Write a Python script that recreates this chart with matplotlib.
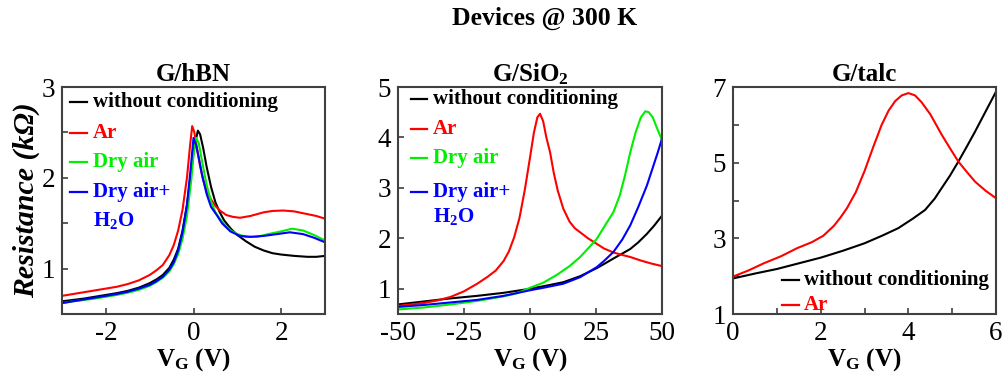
import matplotlib
matplotlib.use("Agg")
import matplotlib.pyplot as plt
from matplotlib.ticker import MultipleLocator

plt.rcParams["font.family"] = ["Liberation Serif", "DejaVu Serif"]
plt.rcParams["mathtext.fontset"] = "custom"
plt.rcParams["mathtext.rm"] = "Liberation Serif:bold"
plt.rcParams["mathtext.bf"] = "Liberation Serif:bold"
plt.rcParams["mathtext.it"] = "Liberation Serif:italic:bold"
plt.rcParams["axes.unicode_minus"] = False

# ---- G/hBN ----
hbn_black_vg = [-3, -2.75, -2.5, -2.25, -2, -1.75, -1.5, -1.25, -1, -0.85, -0.7, -0.55, -0.45,
                -0.35, -0.25, -0.15, -0.05, 0.02, 0.1, 0.15, 0.22, 0.3, 0.4, 0.5, 0.6, 0.7,
                0.85, 1.0, 1.2, 1.4, 1.6, 1.8, 2.0, 2.3, 2.6, 2.8, 3.0]
hbn_black = [0.64, 0.655, 0.67, 0.69, 0.71, 0.73, 0.755, 0.79, 0.84, 0.88, 0.93, 1.01, 1.10,
             1.22, 1.42, 1.70, 2.08, 2.35, 2.52, 2.48, 2.33, 2.12, 1.90, 1.73, 1.62, 1.53,
             1.44, 1.37, 1.30, 1.24, 1.20, 1.17, 1.155, 1.14, 1.13, 1.13, 1.14]
hbn_ar_vg = [-3, -2.75, -2.5, -2.25, -2, -1.75, -1.5, -1.25, -1, -0.85, -0.7, -0.55, -0.45,
             -0.35, -0.25, -0.15, -0.08, -0.03, 0.02, 0.08, 0.15, 0.22, 0.3, 0.4, 0.5, 0.6,
             0.75, 0.9, 1.06, 1.3, 1.6, 1.8, 2.05, 2.3, 2.6, 2.8, 3.0]
hbn_ar = [0.70, 0.72, 0.74, 0.76, 0.78, 0.80, 0.83, 0.87, 0.93, 0.98, 1.04, 1.15, 1.26, 1.42,
          1.65, 2.00, 2.35, 2.57, 2.50, 2.32, 2.13, 1.98, 1.86, 1.76, 1.69, 1.64, 1.59, 1.57,
          1.56, 1.58, 1.62, 1.635, 1.64, 1.63, 1.60, 1.58, 1.55]
hbn_dry_vg = [-3, -2.75, -2.5, -2.25, -2, -1.75, -1.5, -1.25, -1, -0.85, -0.7, -0.55, -0.45,
              -0.35, -0.25, -0.15, -0.05, 0.0, 0.06, 0.12, 0.2, 0.3, 0.4, 0.5, 0.6, 0.7, 0.85,
              1.0, 1.2, 1.45, 1.7, 2.0, 2.25, 2.5, 2.75, 3.0]
hbn_dry = [0.62, 0.64, 0.655, 0.67, 0.69, 0.71, 0.735, 0.765, 0.81, 0.85, 0.90, 0.97, 1.05,
           1.16, 1.33, 1.58, 1.98, 2.25, 2.44, 2.38, 2.17, 1.92, 1.74, 1.62, 1.55, 1.49, 1.42,
           1.38, 1.35, 1.35, 1.38, 1.41, 1.44, 1.42, 1.37, 1.31]
hbn_wet_vg = [-3, -2.75, -2.5, -2.25, -2, -1.75, -1.5, -1.25, -1, -0.85, -0.7, -0.55, -0.45,
              -0.35, -0.25, -0.15, -0.07, 0.0, 0.06, 0.12, 0.2, 0.3, 0.4, 0.53, 0.65, 0.84,
              1.06, 1.3, 1.6, 1.9, 2.2, 2.5, 2.75, 3.0]
hbn_wet = [0.62, 0.64, 0.66, 0.68, 0.70, 0.72, 0.745, 0.78, 0.82, 0.86, 0.91, 0.99, 1.07, 1.20,
           1.40, 1.70, 2.08, 2.44, 2.36, 2.22, 2.02, 1.82, 1.68, 1.59, 1.50, 1.41, 1.36, 1.35,
           1.36, 1.38, 1.40, 1.38, 1.34, 1.29]

# ---- G/SiO2 ----
sio2_black_vg = [-50, -40, -30, -20, -10, 0, 6, 12.6, 19, 25.3, 28, 31.6, 35, 38, 41, 44.3, 47, 50]
sio2_black = [0.69, 0.75, 0.81, 0.86, 0.92, 1.00, 1.06, 1.13, 1.25, 1.41, 1.49, 1.60, 1.70, 1.79,
              1.92, 2.09, 2.25, 2.45]
sio2_ar_vg = [-50, -45, -40, -35, -30, -25, -20, -16, -13, -10, -8, -6, -4, -2, 0, 1.5, 2.8, 3.8,
              5, 6.2, 7.6, 9, 10.5, 12.6, 15, 17, 19, 22, 25.3, 28, 31.6, 35, 38, 42, 46, 50]
sio2_ar = [0.66, 0.69, 0.72, 0.77, 0.84, 0.95, 1.10, 1.24, 1.36, 1.55, 1.74, 2.02, 2.40, 2.95,
           3.60, 4.10, 4.40, 4.47, 4.32, 4.00, 3.71, 3.30, 2.95, 2.59, 2.33, 2.20, 2.12, 2.00,
           1.89, 1.80, 1.72, 1.67, 1.63, 1.56, 1.50, 1.45]
sio2_dry_vg = [-50, -40, -30, -20, -10, -5, 0, 5, 10, 15, 19, 22, 25.3, 28, 31.6, 34, 36, 38, 40,
               42, 43.7, 45, 46.5, 48, 50]
sio2_dry = [0.59, 0.63, 0.69, 0.76, 0.85, 0.91, 1.02, 1.12, 1.27, 1.45, 1.63, 1.80, 1.99, 2.22,
            2.52, 2.85, 3.25, 3.71, 4.10, 4.40, 4.52, 4.50, 4.40, 4.20, 3.95]
sio2_wet_vg = [-50, -40, -30, -20, -10, 0, 6, 12.6, 19, 25.3, 28, 31.6, 35, 38, 41, 44.3, 46.5,
               48.5, 50]
sio2_wet = [0.64, 0.68, 0.73, 0.78, 0.86, 0.97, 1.03, 1.10, 1.23, 1.43, 1.55, 1.73, 1.98, 2.26,
            2.62, 3.05, 3.40, 3.72, 3.98]

# ---- G/talc ----
talc_black_vg = [0, 0.5, 1.0, 1.5, 2.0, 2.5, 3.0, 3.4, 3.77, 4.1, 4.38, 4.6, 4.76, 4.95, 5.14,
                 5.33, 5.52, 5.76, 6.0]
talc_black = [1.94, 2.07, 2.19, 2.34, 2.49, 2.67, 2.87, 3.07, 3.27, 3.52, 3.75, 4.05, 4.33, 4.66,
              5.03, 5.42, 5.82, 6.35, 6.88]
talc_ar_vg = [0, 0.35, 0.7, 1.1, 1.46, 1.8, 2.06, 2.3, 2.45, 2.6, 2.8, 3.0, 3.2, 3.39, 3.55, 3.7,
              3.85, 4.0, 4.15, 4.3, 4.5, 4.76, 4.95, 5.14, 5.33, 5.52, 5.76, 6.0]
talc_ar = [1.99, 2.15, 2.34, 2.53, 2.74, 2.90, 3.07, 3.33, 3.55, 3.80, 4.22, 4.78, 5.42, 6.00,
           6.38, 6.63, 6.78, 6.84, 6.78, 6.60, 6.28, 5.74, 5.38, 5.03, 4.76, 4.50, 4.26, 4.06]

BLACK, RED, GREEN, BLUE = "black", "#ff0000", "#00ee00", "#0000ff"
TICK_FS = 19.5
KEY_FS = 15


def style_axes(ax):
    for s in ax.spines.values():
        s.set_color("#404040")
        s.set_linewidth(1.5)
    ax.tick_params(which="both", direction="in", length=4, width=1.2, color="#404040",
                   labelsize=TICK_FS, top=False, right=False, pad=5)
    ax.set_xlabel("V$_\\mathrm{G}$ (V)", fontsize=18, fontweight="bold", labelpad=0)


def draw_key(ax, y, label, color, x0, x1, xt, handle=True):
    if handle:
        ax.plot([x0, x1], [y, y], transform=ax.transAxes, color=color, lw=1.6, clip_on=False)
    ax.text(xt, y, label, transform=ax.transAxes, color=color, fontsize=KEY_FS,
            fontweight="bold", va="center", ha="left")


fig = plt.figure(figsize=(10.05, 3.86), dpi=100)
ax1 = fig.add_axes([0.0617, 0.1865, 0.2617, 0.588])
ax2 = fig.add_axes([0.396, 0.1865, 0.2627, 0.588])
ax3 = fig.add_axes([0.7294, 0.1865, 0.2617, 0.588])

fig.text(0.542, 0.952, "Devices @ 300 K", ha="center", va="center", fontsize=18.5, fontweight="bold")

# G/hBN panel
ax1.plot(hbn_black_vg, hbn_black, color=BLACK, lw=1.5)
ax1.plot(hbn_ar_vg, hbn_ar, color=RED, lw=1.5)
ax1.plot(hbn_dry_vg, hbn_dry, color=GREEN, lw=1.5)
ax1.plot(hbn_wet_vg, hbn_wet, color=BLUE, lw=1.5)
ax1.set_xlim(-3, 3)
ax1.set_ylim(0.5, 3)
ax1.set_xticks([-2, 0, 2])
ax1.set_yticks([1, 2, 3])
ax1.yaxis.set_minor_locator(MultipleLocator(0.5))
ax1.set_title("G/hBN", fontsize=18, fontweight="bold", pad=4)
ax1.set_ylabel("Resistance (kΩ)", fontsize=21.5, fontstyle="italic", fontweight="bold", labelpad=1)
style_axes(ax1)
draw_key(ax1, 0.935, "without conditioning", BLACK, 0.03, 0.095, 0.117)
draw_key(ax1, 0.797, "Ar", RED, 0.03, 0.095, 0.117)
draw_key(ax1, 0.671, "Dry air", GREEN, 0.03, 0.095, 0.117)
draw_key(ax1, 0.539, "Dry air+", BLUE, 0.03, 0.095, 0.117)
draw_key(ax1, 0.414, "H$_2$O", BLUE, 0.03, 0.095, 0.117, handle=False)

# G/SiO2 panel
ax2.plot(sio2_black_vg, sio2_black, color=BLACK, lw=1.5)
ax2.plot(sio2_ar_vg, sio2_ar, color=RED, lw=1.5)
ax2.plot(sio2_dry_vg, sio2_dry, color=GREEN, lw=1.5)
ax2.plot(sio2_wet_vg, sio2_wet, color=BLUE, lw=1.5)
ax2.set_xlim(-50, 50)
ax2.set_ylim(0.5, 5)
ax2.set_xticks([-50, -25, 0, 25, 50])
ax2.set_yticks([1, 2, 3, 4, 5])
ax2.set_title("G/SiO$_2$", fontsize=18, fontweight="bold", pad=4)
style_axes(ax2)
draw_key(ax2, 0.946, "without conditioning", BLACK, 0.048, 0.111, 0.131)
draw_key(ax2, 0.814, "Ar", RED, 0.048, 0.111, 0.131)
draw_key(ax2, 0.686, "Dry air", GREEN, 0.048, 0.111, 0.131)
draw_key(ax2, 0.539, "Dry air+", BLUE, 0.048, 0.111, 0.131)
draw_key(ax2, 0.429, "H$_2$O", BLUE, 0.048, 0.111, 0.131, handle=False)

# G/talc panel
ax3.plot(talc_black_vg, talc_black, color=BLACK, lw=1.5)
ax3.plot(talc_ar_vg, talc_ar, color=RED, lw=1.5)
ax3.set_xlim(0, 6)
ax3.set_ylim(1, 7)
ax3.set_xticks([0, 2, 4, 6])
ax3.set_yticks([1, 3, 5, 7])
ax3.xaxis.set_minor_locator(MultipleLocator(1))
ax3.yaxis.set_minor_locator(MultipleLocator(1))
ax3.set_title("G/talc", fontsize=18, fontweight="bold", pad=4)
style_axes(ax3)
draw_key(ax3, 0.15, "without conditioning", BLACK, 0.186, 0.249, 0.27)
draw_key(ax3, 0.04, "Ar", RED, 0.186, 0.249, 0.27)

fig.savefig("out.png", dpi=100)
